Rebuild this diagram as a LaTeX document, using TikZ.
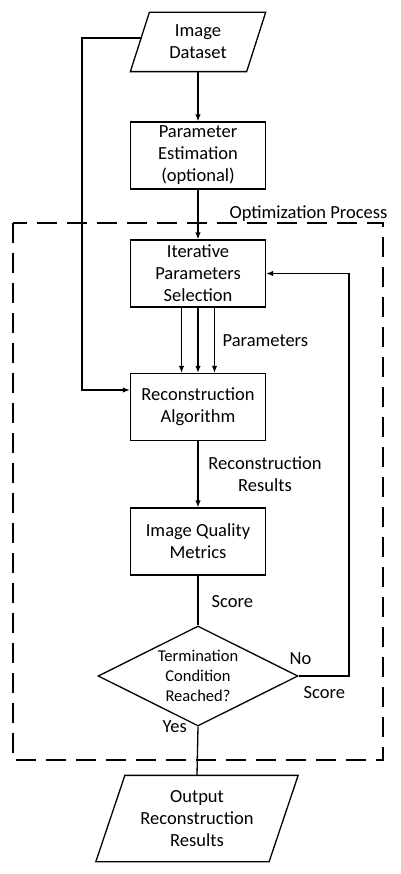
\documentclass[tikz,border=0pt]{standalone}
\usepackage{fontspec}
\setmainfont{Carlito}
\usetikzlibrary{arrows.meta,shapes.geometric,calc}
\begin{document}
\begin{tikzpicture}[x=1pt,y=1pt,
  font=\fontsize{18.5}{22}\selectfont,
  line width=1.3pt,
  box/.style={draw,rectangle,minimum width=135pt,minimum height=67pt,align=center,inner sep=0pt},
  iobody/.style={rectangle,align=center,inner sep=0pt},
  dia/.style={draw,diamond,aspect=2,minimum width=200pt,minimum height=100pt,inner sep=0pt,align=center,font=\fontsize{16.5}{20}\selectfont},
  lbl/.style={inner sep=0pt,align=center},
  arr/.style={-{Latex[length=7pt,width=5.5pt]}},
  optbox/.style={draw,line width=2.8pt,dash pattern=on 20pt off 10pt}
]
\useasboundingbox (0,0) rectangle (400,-874);
% dashed optimization region
\draw[optbox] (13,-223) rectangle (383,-760);
\node[lbl,anchor=east] (optlbl) at (388,-214) {Optimization Process};

% nodes
\node[iobody,minimum width=115pt,minimum height=58pt] (ds) at (198,-42) {Image\\Dataset};
\draw ($(ds.north west)+(9.5,0)$) -- ($(ds.north east)+(9.5,0)$) -- ($(ds.south east)+(-9.5,0)$) -- ($(ds.south west)+(-9.5,0)$) -- cycle;
\node[box] (pe) at (198,-155.5) {Parameter\\Estimation\\(optional)};
\node[box] (ips) at (198,-273.5) {Iterative\\Parameters\\Selection};
\node[box] (ra) at (198,-407) {Reconstruction\\Algorithm};
\node[box] (iqm) at (198,-541.5) {Image Quality\\Metrics};
\node[dia] (tc) at (198,-676) {Termination\\Condition\\Reached?};
\node[iobody,minimum width=172pt,minimum height=85pt] (out) at (197,-818.5) {Output\\Reconstruction\\Results};
\draw ($(out.north west)+(14.5,0)$) -- ($(out.north east)+(14.5,0)$) -- ($(out.south east)+(-14.5,0)$) -- ($(out.south west)+(-14.5,0)$) -- cycle;

% connectors
\coordinate (dsleft) at (141.8,-38);
\coordinate (leftbend) at (82,-38);
\draw[arr] (ds.south) -- (pe.north);
\draw[arr] (pe.south) -- (ips.north);
\draw[arr] (dsleft) -- (leftbend) |- ([yshift=17pt]ra.west);
\draw[arr] ([xshift=-16.5pt]ips.south) -- ([xshift=-16.5pt]ra.north);
\draw[arr] (ips.south) -- (ra.north);
\draw[arr] ([xshift=16.5pt]ips.south) -- ([xshift=16.5pt]ra.north);
\draw[arr] (ra.south) -- (iqm.north);
\draw (iqm.south) -- (tc.north);
\coordinate (fb) at (349,-676);
\draw[arr] (tc.east) -- (fb) |- (ips.east);
\draw (tc.south) -- (out.north);

% labels
\node[lbl,anchor=west] (lpar) at (222,-341) {Parameters};
\node[lbl] (lrr) at (265,-474) {Reconstruction\\Results};
\node[lbl,anchor=west] (lsc1) at (211,-602) {Score};
\node[lbl,anchor=west] (lno) at (289,-659) {No};
\node[lbl,anchor=west] (lsc2) at (303,-693) {Score};
\node[lbl,anchor=west] (lyes) at (162,-727) {Yes};
\end{tikzpicture}
\end{document}
